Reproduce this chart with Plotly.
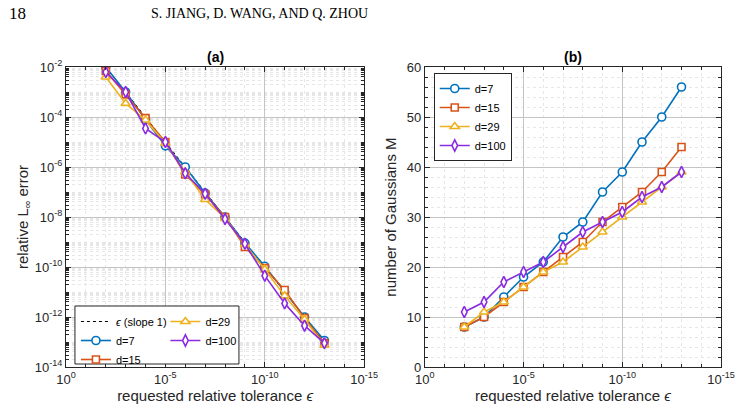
import plotly.graph_objects as go
from plotly.subplots import make_subplots

# ---------------- data ----------------
eps = [1e-2, 1e-3, 1e-4, 1e-5, 1e-6, 1e-7, 1e-8, 1e-9, 1e-10, 1e-11, 1e-12, 1e-13]
labels = ["d=7", "d=15", "d=29", "d=100"]

err_d7 = [1.0e-2, 1.0e-3, 8.0e-5, 7.0e-6, 1.0e-6, 9.0e-8, 1.0e-8, 9.0e-10, 1.07e-10, 1.0e-11, 1.0e-12, 1.15e-13]
err_d15 = [7.0e-3, 8.0e-4, 9.0e-5, 1.0e-5, 5.0e-7, 8.0e-8, 1.0e-8, 6.3e-10, 9.0e-11, 1.2e-11, 9.0e-13, 9.0e-14]
err_d29 = [4.0e-3, 3.5e-4, 7.5e-5, 9.0e-6, 6.3e-7, 5.0e-8, 9.0e-9, 8.0e-10, 8.0e-11, 7.0e-12, 8.0e-13, 7.5e-14]
err_d100 = [6.3e-3, 1.0e-3, 3.5e-5, 1.0e-5, 5.6e-7, 8.5e-8, 8.3e-9, 8.5e-10, 4.5e-11, 3.5e-12, 4.5e-13, 9.0e-14]

M_d7 = [8, 10, 14, 18, 21, 26, 29, 35, 39, 45, 50, 56]
M_d15 = [8, 10, 13, 16, 19, 22, 25, 29, 32, 35, 39, 44]
M_d29 = [8, 11, 13, 16, 19, 21, 24, 27, 30, 33, 36, 39]
M_d100 = [11, 13, 17, 19, 21, 24, 27, 29, 31, 34, 36, 39]

x_major = [1e0, 1e-5, 1e-10, 1e-15]
x_major_text = ["10<sup>0</sup>", "10<sup>-5</sup>", "10<sup>-10</sup>", "10<sup>-15</sup>"]
y_major = [1e-2, 1e-4, 1e-6, 1e-8, 1e-10, 1e-12, 1e-14]
y_major_text = ["10<sup>-2</sup>", "10<sup>-4</sup>", "10<sup>-6</sup>", "10<sup>-8</sup>",
                "10<sup>-10</sup>", "10<sup>-12</sup>", "10<sup>-14</sup>"]

# ---------------- style ----------------
colors = ["#0072BD", "#D95319", "#EDB120", "#8A2BE2"]
symbols = ["circle", "square", "triangle-up", "diamond-tall"]
msizes = [8, 7, 8, 8]
FONT = "Liberation Sans, Arial, Helvetica, sans-serif"
SERIF = "Liberation Serif, DejaVu Serif, serif"
AX = "#262626"

W, H = 747, 413
L, R, T, B = 66, 22, 67, 46
plot_w = W - L - R
plot_h = H - T - B
d1 = [0, (366 - L) / plot_w]
d2 = [(427 - L) / plot_w, 1]


def px_x(p):
    return (p - L) / plot_w


def px_y(p):
    return 1 - (p - T) / plot_h


fig = make_subplots(rows=1, cols=2)

# left: error (legend column 1 = "legend", column 2 = "legend3")
fig.add_trace(go.Scatter(x=eps, y=eps, mode="lines", name="<i>\u03f5</i> (slope 1)",
                         line=dict(color="black", width=1, dash="dot"),
                         legend="legend", legendrank=1), row=1, col=1)
errs = [err_d7, err_d15, err_d29, err_d100]
legs_left = ["legend", "legend", "legend3", "legend3"]
for i, e in enumerate(errs):
    fig.add_trace(go.Scatter(x=eps, y=e, mode="lines+markers", name=labels[i],
                             line=dict(color=colors[i], width=1.6),
                             marker=dict(symbol=symbols[i], size=msizes[i], color="white",
                                         line=dict(color=colors[i], width=1.6)),
                             legend=legs_left[i], legendrank=i + 2), row=1, col=1)

Ms = [M_d7, M_d15, M_d29, M_d100]
for i, m in enumerate(Ms):
    fig.add_trace(go.Scatter(x=eps, y=m, mode="lines+markers", name=labels[i],
                             line=dict(color=colors[i], width=1.6),
                             marker=dict(symbol=symbols[i], size=msizes[i], color="white",
                                         line=dict(color=colors[i], width=1.6)),
                             legend="legend2", legendrank=i + 1), row=1, col=2)

x_minor = [10.0 ** (-k) for k in range(0, 16)]
y_minor = []
for k in range(2, 15):
    for m in range(1, 10):
        y_minor.append(m * 10.0 ** (-k))

GRID_MAJ = "#c4c4c4"
GRID_MIN = "#e6e6e6"

common_axis = dict(showline=True, linecolor=AX, linewidth=1, mirror="ticks",
                   ticks="inside", ticklen=5, tickcolor=AX, tickwidth=1,
                   showgrid=True, gridcolor=GRID_MAJ, gridwidth=1,
                   zeroline=False,
                   tickfont=dict(family=FONT, size=13, color="#262626"))

xaxis_common = dict(common_axis, type="log", range=[0, -15],
                    tickmode="array", tickvals=x_major, ticktext=x_major_text,
                    minor=dict(tickmode="array", tickvals=x_minor, ticks="inside", ticklen=3,
                               tickcolor=AX, showgrid=True, gridcolor=GRID_MIN,
                               griddash="dot", gridwidth=1),
                    title=dict(text="requested relative tolerance <i>\u03f5</i>",
                               font=dict(family=FONT, size=15, color="#262626"), standoff=4))

fig.update_xaxes(**xaxis_common, domain=d1, row=1, col=1)
fig.update_xaxes(**xaxis_common, domain=d2, row=1, col=2)

fig.update_yaxes(common_axis, type="log", range=[-14, -2],
                 tickmode="array", tickvals=y_major, ticktext=y_major_text,
                 minor=dict(tickmode="array", tickvals=y_minor, ticks="inside", ticklen=3,
                            tickcolor=AX, showgrid=True, gridcolor=GRID_MIN,
                            griddash="dot", gridwidth=1),
                 title=dict(text="relative L<sub>\u221e</sub> error",
                            font=dict(family=FONT, size=15, color="#262626"), standoff=2),
                 row=1, col=1)
fig.update_yaxes(common_axis, range=[0, 60], tickmode="linear", tick0=0, dtick=10,
                 minor=dict(dtick=2, ticks="inside", ticklen=3, tickcolor=AX, showgrid=True,
                            gridcolor=GRID_MIN, griddash="dot", gridwidth=1),
                 title=dict(text="number of Gaussians M",
                            font=dict(family=FONT, size=15, color="#262626"), standoff=6),
                 row=1, col=2)

leg_font = dict(family=FONT, size=11, color="black")
clear = "rgba(0,0,0,0)"
box_top, box_bot = 306, 364

fig.update_layout(
    width=W, height=H, margin=dict(l=L, r=R, t=T, b=B),
    paper_bgcolor="white", plot_bgcolor="white",
    font=dict(family=FONT, color="#262626"),
    legend=dict(orientation="v", x=px_x(76), y=px_y(box_top + 1), xanchor="left", yanchor="top",
                bgcolor=clear, borderwidth=0, itemwidth=30,
                font=leg_font, tracegroupgap=0),
    legend3=dict(orientation="v", x=px_x(166), y=px_y(box_top + 1), xanchor="left", yanchor="top",
                 bgcolor=clear, borderwidth=0, itemwidth=30,
                 font=leg_font, tracegroupgap=0),
    legend2=dict(orientation="v", x=px_x(436), y=px_y(73), xanchor="left", yanchor="top",
                 bgcolor="white", bordercolor=AX, borderwidth=1, itemwidth=30,
                 font=leg_font, tracegroupgap=0),
    shapes=[
        dict(type="rect", xref="paper", yref="paper",
             x0=px_x(75), x1=px_x(240), y0=px_y(box_bot), y1=px_y(box_top),
             fillcolor="white", line=dict(color=AX, width=1), layer="above"),
    ],
    annotations=[
        dict(text="<b>(a)</b>", x=(d1[0] + d1[1]) / 2, y=1.0, xref="paper", yref="paper",
             xanchor="center", yanchor="bottom", showarrow=False,
             font=dict(family=FONT, size=14, color="black")),
        dict(text="<b>(b)</b>", x=(d2[0] + d2[1]) / 2, y=1.0, xref="paper", yref="paper",
             xanchor="center", yanchor="bottom", showarrow=False,
             font=dict(family=FONT, size=14, color="black")),
        dict(text="18", x=px_x(7), y=px_y(14), xref="paper", yref="paper",
             xanchor="left", yanchor="middle", showarrow=False,
             font=dict(family=SERIF, size=17, color="black")),
        dict(text="S. JIANG, D. WANG, AND Q. ZHOU", x=px_x(261), y=px_y(14),
             xref="paper", yref="paper", xanchor="center", yanchor="middle", showarrow=False,
             font=dict(family=SERIF, size=14, color="black")),
    ],
)

fig.write_html("out.html")
